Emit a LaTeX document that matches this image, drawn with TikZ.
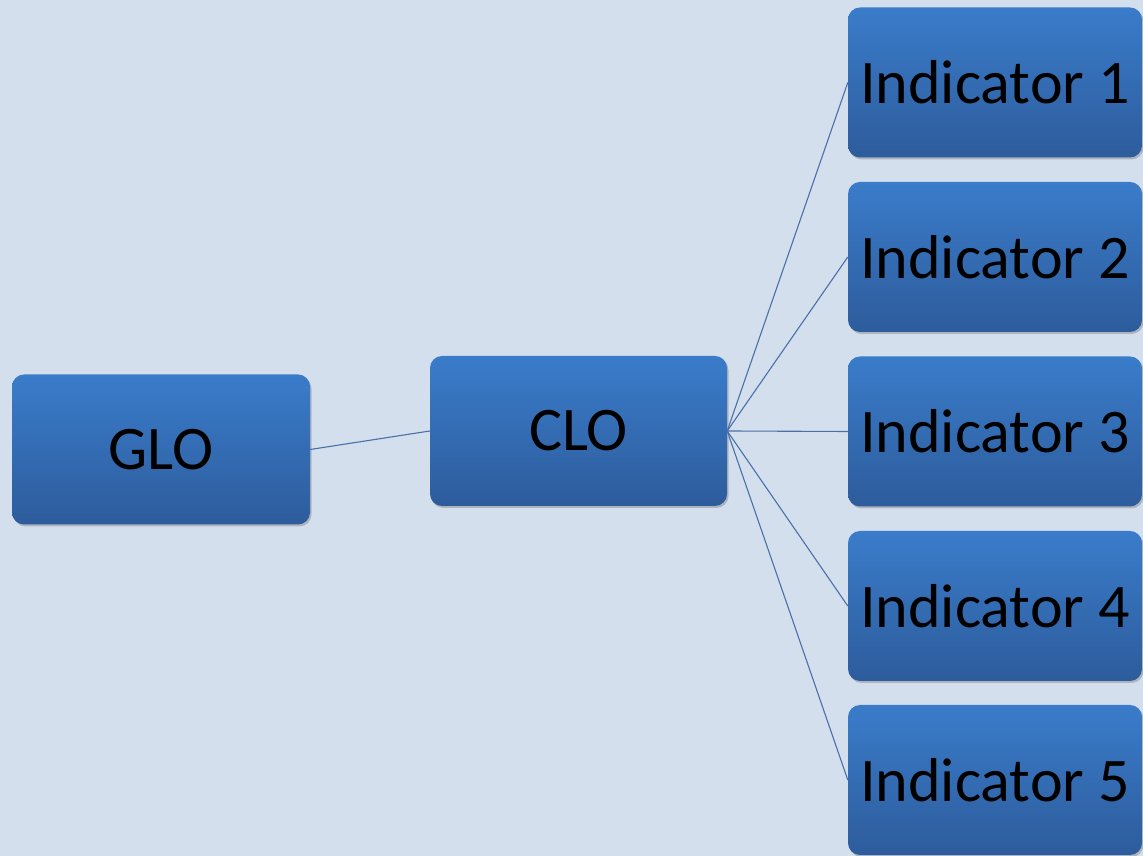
\documentclass[tikz,border=0pt]{standalone}
\usepackage{fontspec}
\setmainfont{Carlito}
\usetikzlibrary{shadows}
\definecolor{bg}{HTML}{D4DFEE}
\definecolor{boxtop}{HTML}{3A7CCA}
\definecolor{boxbot}{HTML}{2D5C9C}
\definecolor{linec}{HTML}{4A70A8}
\tikzset{
  box/.style={rectangle, rounded corners=12pt, top color=boxtop, bottom color=boxbot,
    draw=none, minimum height=150pt, inner sep=0pt, text=black,
    font=\fontsize{62}{70}\selectfont,
    drop shadow={shadow xshift=1.5pt, shadow yshift=-2pt, opacity=0.35, fill=black!60}},
  conn/.style={draw=linec, line width=1.1pt}
}
\begin{document}
\begin{tikzpicture}[x=1pt,y=1pt]
\fill[bg] (0,0) rectangle (1143,856);
\useasboundingbox (0,0) rectangle (1143,856);
\node[box, minimum width=298pt] (glo) at (161,406.5) {GLO};
\node[box, minimum width=297pt] (clo) at (578.5,425) {CLO};
\node[box, minimum width=294pt] (i1) at (995,773.5) {Indicator 1};
\node[box, minimum width=294pt] (i2) at (995,599) {Indicator 2};
\node[box, minimum width=294pt] (i3) at (995,424.5) {Indicator 3};
\node[box, minimum width=294pt] (i4) at (995,250) {Indicator 4};
\node[box, minimum width=294pt] (i5) at (995,76) {Indicator 5};
\draw[conn] (glo.east) -- (clo.west);
\foreach \n in {i1,i2,i3,i4,i5}{
  \draw[conn] (clo.east) -- (\n.west);
}
\end{tikzpicture}
\end{document}
